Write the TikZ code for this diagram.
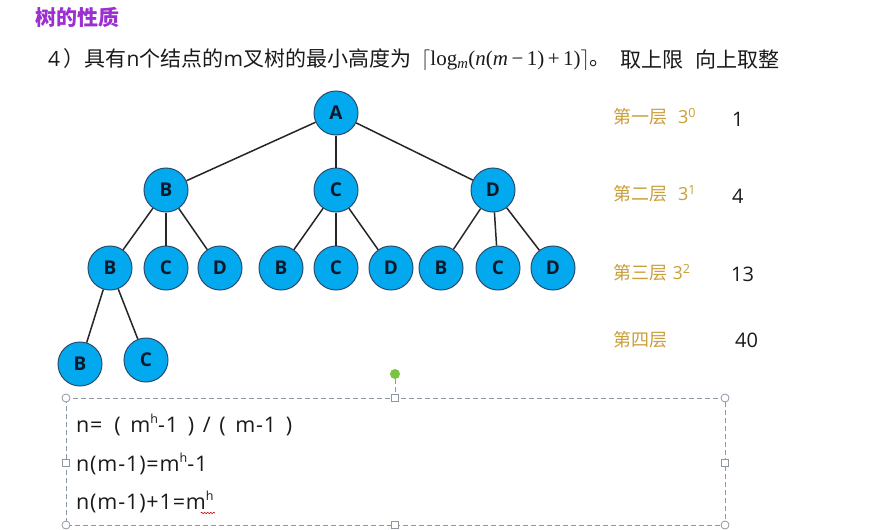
\documentclass[tikz,border=0pt]{standalone}
\usepackage{fontspec}
\setmainfont{Noto Sans CJK SC}
\newfontfamily\tms{Liberation Serif}
\newfontfamily\lat{Open Sans}
\newfontfamily\latw[LetterSpace=4]{Open Sans}
\usetikzlibrary{decorations.pathmorphing,calc}
\definecolor{nodeblue}{HTML}{03A9EE}
\definecolor{nodeborder}{HTML}{2B4A6B}
\definecolor{nodetext}{HTML}{0E1A2B}
\definecolor{titlepurple}{HTML}{9B2FD0}
\definecolor{gold}{HTML}{C9A03A}
\definecolor{boxgray}{HTML}{8C97A3}
\definecolor{handlegreen}{HTML}{7DC142}
\definecolor{txt}{HTML}{1A1A1A}
\newcommand{\suph}{\raisebox{0.42em}{\fontsize{12.5}{12.5}\selectfont h}}
\begin{document}
\begin{tikzpicture}[x=1pt,y=-1pt,
  tn/.style={circle, draw=nodeborder, line width=1pt, fill=nodeblue, minimum size=44pt, inner sep=0pt,
    font=\lat\bfseries\fontsize{19}{19}\selectfont, text=nodetext},
  edge/.style={draw=black!85, line width=1.5pt},
  lbl/.style={anchor=west, inner sep=0pt, text=txt},
  layer/.style={anchor=west, inner sep=0pt, text=gold, font=\fontsize{18}{18}\selectfont},
  num/.style={anchor=west, inner sep=0pt, text=txt, font=\lat\fontsize{20}{20}\selectfont},
  boxtxt/.style={anchor=west, inner sep=0pt, text=txt, font=\latw\fontsize{21.5}{21.5}\selectfont},
  cornerhandle/.style={circle, draw=boxgray, fill=white, line width=0.8pt, minimum size=8pt, inner sep=0pt},
  sidehandle/.style={rectangle, draw=boxgray, fill=white, line width=0.8pt, minimum size=7pt, inner sep=0pt},
  selbox/.style={draw=boxgray, line width=0.9pt, dash pattern=on 5pt off 3pt}]
\useasboundingbox (0,0) rectangle (892,530);
\fill[white] (0,0) rectangle (892,530);

% title and statement
\node[lbl, text=titlepurple, font=\bfseries\fontsize{21}{21}\selectfont] (title) at (35,17) {树的性质};
\node[lbl, font=\fontsize{21}{21}\selectfont] (stmt) at (48,59) {{\lat 4}\,）具有{\lat n}个结点的{\lat m}叉树的最小高度为};
\node[lbl, font=\fontsize{21}{21}\selectfont] (formula) at (421,60)
  {$\lceil$\tms log\textsubscript{\textit{m}}(\textit{n}(\textit{m}\,−\,1)\,+\,1)$\rceil$\rmfamily 。};
\node[lbl, font=\fontsize{21}{21}\selectfont] (note) at (620,59) {取上限\hspace{0.6em}向上取整};

% tree
\node[tn] (A) at (336,113) {A};
\node[tn] (B) at (166,190) {B};
\node[tn] (C) at (336,190) {C};
\node[tn] (D) at (493,190) {D};
\node[tn] (BB) at (110,268) {B};
\node[tn] (BC) at (166,268) {C};
\node[tn] (BD) at (220,268) {D};
\node[tn] (CB) at (281,268) {B};
\node[tn] (CC) at (336,268) {C};
\node[tn] (CD) at (391,268) {D};
\node[tn] (DB) at (441,268) {B};
\node[tn] (DC) at (498,268) {C};
\node[tn] (DD) at (553,268) {D};
\node[tn] (BBB) at (80,364) {B};
\node[tn] (BBC) at (146,360) {C};
\draw[edge] (A) -- (B);
\draw[edge] (A) -- (C);
\draw[edge] (A) -- (D);
\draw[edge] (B) -- (BB);
\draw[edge] (B) -- (BC);
\draw[edge] (B) -- (BD);
\draw[edge] (C) -- (CB);
\draw[edge] (C) -- (CC);
\draw[edge] (C) -- (CD);
\draw[edge] (D) -- (DB);
\draw[edge] (D) -- (DC);
\draw[edge] (D) -- (DD);
\draw[edge] (BB) -- (BBB);
\draw[edge] (BB) -- (BBC);

% layer labels
\node[layer] (L1) at (613,117) {第一层\hspace{0.6em}{\lat 3\textsuperscript{0}}};
\node[layer] (L2) at (613,194) {第二层\hspace{0.6em}{\lat 3\textsuperscript{1}}};
\node[layer] (L3) at (613,273) {第三层\hspace{0.3em}{\lat 3\textsuperscript{2}}};
\node[layer] (L4) at (613,340) {第四层};
\node[num] (N1) at (732,119) {1};
\node[num] (N2) at (732,196) {4};
\node[num] (N3) at (731,274) {13};
\node[num] (N4) at (735,340) {40};

% selection box
\coordinate (tl) at (66,398);
\coordinate (br) at (725,525);
\draw[selbox] (tl) rectangle (br);
\node[circle, fill=handlegreen, minimum size=10pt, inner sep=0pt] (rot) at (395,374) {};
\node[sidehandle] (tm) at (395,398) {};
\draw[selbox] (rot) -- (tm);
\node[sidehandle] (bm) at (395,525) {};
\node[sidehandle] (lm) at (66,463) {};
\node[sidehandle] (rm) at (725,463) {};
\node[cornerhandle] (c1) at (66,398) {};
\node[cornerhandle] (c2) at (725,398) {};
\node[cornerhandle] (c3) at (66,525) {};
\node[cornerhandle] (c4) at (725,525) {};

\node[boxtxt] (e1) at (76,425) {n=\hspace{0.55em}(\hspace{0.45em}m\suph-1\hspace{0.45em})\hspace{0.4em}/\hspace{0.4em}(\hspace{0.45em}m-1\hspace{0.45em})};
\node[boxtxt] (e2) at (76,464) {n(m-1)=m\suph-1};
\node[boxtxt] (e3) at (76,502) {n(m-1)+1=m\suph};
\coordinate (sq1) at ($(e3.east)+(-13,11)$);
\coordinate (sq2) at ($(e3.east)+(1,11)$);
\draw[red!80!black, line width=0.6pt, decorate, decoration={snake, amplitude=0.8pt, segment length=3pt}] (sq1) -- (sq2);
\end{tikzpicture}
\end{document}
